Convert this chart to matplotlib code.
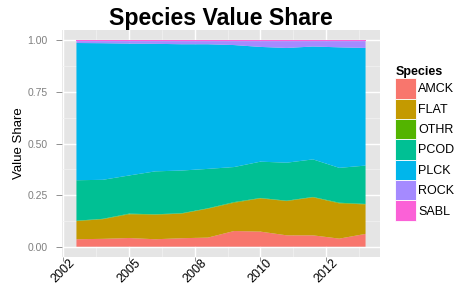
import matplotlib
matplotlib.use("Agg")
import matplotlib.pyplot as plt
import matplotlib.transforms as mtransforms
from matplotlib.patches import Patch
from matplotlib.ticker import FixedLocator

plt.rcParams['font.family'] = ['Liberation Sans', 'DejaVu Sans']

years = [2002, 2003, 2004, 2005, 2006, 2007, 2008, 2009, 2010, 2011, 2012, 2013]
species = ['AMCK', 'FLAT', 'OTHR', 'PCOD', 'PLCK', 'ROCK', 'SABL']
colors = ['#F8766D', '#C49A00', '#53B400', '#00C094', '#00B6EB', '#A58AFF', '#FB61D7']

amck = [0.036, 0.038, 0.042, 0.036, 0.041, 0.044, 0.076, 0.073, 0.055, 0.055, 0.039, 0.062]
flat = [0.088, 0.095, 0.115, 0.119, 0.119, 0.140, 0.137, 0.161, 0.166, 0.184, 0.171, 0.143]
othr = [0.002, 0.002, 0.003, 0.002, 0.002, 0.002, 0.003, 0.002, 0.002, 0.002, 0.003, 0.002]
pcod = [0.196, 0.189, 0.185, 0.208, 0.207, 0.191, 0.170, 0.176, 0.184, 0.182, 0.169, 0.186]
plck = [0.665, 0.662, 0.639, 0.618, 0.612, 0.604, 0.591, 0.556, 0.556, 0.547, 0.584, 0.570]
rock = [0.009, 0.010, 0.012, 0.013, 0.015, 0.015, 0.019, 0.028, 0.033, 0.026, 0.030, 0.033]
sabl = [0.004, 0.004, 0.004, 0.004, 0.004, 0.004, 0.004, 0.004, 0.004, 0.004, 0.004, 0.004]

# odd date breaks from the original, placed on the year axis
xtick_pos = [2001.5, 2004.0, 2006.5, 2009.0, 2011.5]
xtick_labels = ['2002', '2005', '2008', '2010', '2012']
ytick_pos = [0.0, 0.25, 0.5, 0.75, 1.0]

fig = plt.figure(figsize=(4.62, 2.86), dpi=100)
ax = fig.add_axes([62 / 462, 1 - 257 / 286, (380 - 62) / 462, (257 - 30) / 286])
ax.set_facecolor('#E5E5E5')

ax.stackplot(years, amck, flat, othr, pcod, plck, rock, sabl,
             colors=colors, linewidth=0, zorder=3)

span = years[-1] - years[0]
ax.set_xlim(years[0] - 0.05 * span, years[-1] + 0.05 * span)
ax.set_ylim(-0.05, 1.05)

ax.set_xticks(xtick_pos)
ax.set_xticklabels(xtick_labels, rotation=45, ha='center', va='top',
                   fontsize=9, color='black')
shift = mtransforms.ScaledTranslation(5 / 100, 0, fig.dpi_scale_trans)
for lab in ax.get_xticklabels():
    lab.set_transform(lab.get_transform() + shift)
ax.xaxis.set_minor_locator(FixedLocator([(a + b) / 2 for a, b in zip(xtick_pos[:-1], xtick_pos[1:])] + [xtick_pos[-1] + 1.25]))
ax.set_yticks(ytick_pos)
ax.set_yticklabels(['%.2f' % v for v in ytick_pos], fontsize=7.5, color='#7F7F7F')
ax.yaxis.set_minor_locator(FixedLocator([0.125, 0.375, 0.625, 0.875]))

ax.grid(which='major', color='white', linewidth=1.0, zorder=0)
ax.grid(which='minor', color='#F2F2F2', linewidth=0.5, zorder=0)
ax.set_axisbelow(True)
ax.tick_params(axis='y', which='major', length=4, color='#7F7F7F', width=0.6, pad=6.5)
ax.tick_params(axis='x', which='major', length=3, color='#7F7F7F', width=0.6, pad=-3)
ax.tick_params(which='minor', length=0)
for s in ax.spines.values():
    s.set_visible(False)

ax.set_ylabel('Value Share', fontsize=9.5, labelpad=1.5)
ax.set_title('Species Value Share', fontsize=16.7, fontweight='bold', pad=3)

handles = [Patch(facecolor=c, edgecolor='white', linewidth=0.6) for c in colors]
leg = fig.legend(handles, species, loc='upper left', bbox_to_anchor=(389 / 462, 1 - 60 / 286),
                 frameon=False, fontsize=9, title='Species',
                 title_fontproperties={'weight': 'bold', 'size': 9},
                 handlelength=1.68, handleheight=2.13, labelspacing=0.0,
                 handletextpad=0.15, borderpad=0.0)
leg._legend_box.align = 'left'

fig.savefig('out.png', dpi=100)
